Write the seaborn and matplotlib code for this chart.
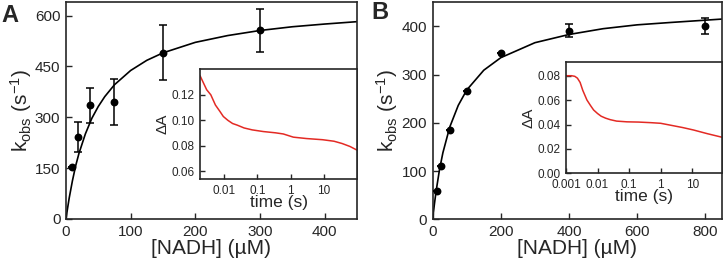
import numpy as np
import matplotlib
matplotlib.use("Agg")
import matplotlib.pyplot as plt
import seaborn as sns
from matplotlib.ticker import FixedLocator, NullLocator, FixedFormatter

# ---- panel A data ----
a_nadh = [9.4, 18.75, 37.5, 75, 150, 300]
a_kobs = [153, 243, 335, 345, 491, 556]
a_err = [0, 44, 51, 67, 81, 64]
a_fit_x = [0, 2, 5, 10, 15, 20, 30, 40, 50, 60, 75, 100, 125, 150, 200, 250, 300, 350, 400, 450]
a_fit_y = [0, 26, 62, 113, 157, 193, 251, 297, 332, 361, 396, 438, 468, 490, 521, 541, 556, 567, 575, 582]
a_t = [0.0019, 0.003, 0.004, 0.0055, 0.0075, 0.0095, 0.013, 0.018, 0.025, 0.04, 0.07,
       0.15, 0.35, 0.6, 1.2, 3, 9, 20, 35, 60, 100]
a_dA = [0.135, 0.124, 0.120, 0.112, 0.107, 0.103, 0.100, 0.0975, 0.0962, 0.094, 0.0925,
        0.0912, 0.0902, 0.0893, 0.0868, 0.0857, 0.0848, 0.0836, 0.0818, 0.0795, 0.0765]

# ---- panel B data ----
b_nadh = [12.5, 25, 50, 100, 200, 400, 800]
b_kobs = [59, 111, 185, 266, 344, 391, 400]
b_err = [0, 0, 0, 0, 0, 14, 17]
b_fit_x = [0, 2, 5, 10, 20, 30, 50, 75, 100, 150, 200, 300, 400, 500, 600, 700, 850]
b_fit_y = [0, 13, 31, 58, 103, 138, 191, 236, 268, 309, 335, 366, 383, 395, 403, 408, 415]
b_t = [0.001, 0.0015, 0.0019, 0.0023, 0.0028, 0.0034, 0.0046, 0.006, 0.0075, 0.01, 0.013,
       0.018, 0.025, 0.04, 0.085, 0.2, 0.5, 1.0, 2, 5, 11, 30, 90]
b_dA = [0.0800, 0.0800, 0.0795, 0.0780, 0.0745, 0.0680, 0.0601, 0.0555, 0.0519, 0.0490, 0.0468,
        0.0452, 0.0440, 0.0428, 0.0422, 0.0420, 0.0415, 0.0410, 0.0395, 0.0375, 0.0355, 0.0325, 0.0295]

sns.set_style("ticks")
plt.rcParams["font.family"] = ["Liberation Sans", "DejaVu Sans"]
plt.rcParams["mathtext.fontset"] = "custom"
plt.rcParams["mathtext.rm"] = "Liberation Sans"
plt.rcParams["mathtext.it"] = "Liberation Sans"

RED = "#e32a24"

fig = plt.figure(figsize=(7.25, 2.71), dpi=100)


def main_panel(rect, fx, fy, px, py, err, xlim, ylim, xticks, yticks):
    ax = fig.add_axes(rect)
    sns.lineplot(x=fx, y=fy, ax=ax, color="black", linewidth=1.2, sort=False)
    ax.errorbar(px, py, yerr=err, fmt="none", ecolor="black", elinewidth=1.1,
                capsize=3, capthick=1.1, zorder=3)
    sns.scatterplot(x=px, y=py, ax=ax, color="black", s=32, edgecolor="black",
                    linewidth=0, zorder=4)
    ax.set_xlim(xlim)
    ax.set_ylim(ylim)
    ax.set_xticks(xticks)
    ax.set_yticks(yticks)
    ax.tick_params(direction="in", length=4, width=1, labelsize=11, pad=4)
    for s in ax.spines.values():
        s.set_visible(True)
        s.set_linewidth(1.2)
    ax.set_xlabel("[NADH] (\u00b5M)", fontsize=15, labelpad=0)
    ax.set_ylabel(r"k$_{\mathregular{obs}}$ (s$^{\mathregular{-1}}$)", fontsize=15, labelpad=1)
    return ax


def inset_panel(rect, t, dA, xlim, ylim, xticks, xlabels, yticks):
    ax = fig.add_axes(rect)
    ax.set_facecolor("white")
    sns.lineplot(x=t, y=dA, ax=ax, color=RED, linewidth=1.1, sort=False)
    ax.set_xscale("log")
    ax.set_xlim(xlim)
    ax.set_ylim(ylim)
    ax.xaxis.set_major_locator(FixedLocator(xticks))
    ax.xaxis.set_major_formatter(FixedFormatter(xlabels))
    ax.xaxis.set_minor_locator(NullLocator())
    ax.set_yticks(yticks)
    ax.set_yticklabels(["%.2f" % v for v in yticks])
    ax.tick_params(direction="in", length=3.5, width=1, labelsize=8.5, pad=4)
    for s in ax.spines.values():
        s.set_visible(True)
        s.set_linewidth(1.2)
    ax.set_xlabel("time (s)", fontsize=12.5, labelpad=-1)
    ax.set_ylabel("\u0394A", fontsize=11, labelpad=1)
    return ax


main_panel([0.0910, 0.1919, 0.4014, 0.8007], a_fit_x, a_fit_y, a_nadh, a_kobs, a_err,
           (0, 450), (0, 640), [0, 100, 200, 300, 400], [0, 150, 300, 450, 600])
main_panel([0.5968, 0.1908, 0.3995, 0.8030], b_fit_x, b_fit_y, b_nadh, b_kobs, b_err,
           (0, 850), (0, 451), [0, 200, 400, 600, 800], [0, 100, 200, 300, 400])

inset_panel([0.2759, 0.3395, 0.2166, 0.4048], a_t, a_dA, (0.0019, 98), (0.054, 0.140),
            [0.01, 0.1, 1, 10], ["0.01", "0.1", "1", "10"],
            [0.06, 0.08, 0.10, 0.12])
inset_panel([0.7807, 0.3605, 0.2156, 0.4096], b_t, b_dA, (0.001, 90), (0, 0.091),
            [0.001, 0.01, 0.1, 1, 10], ["0.001", "0.01", "0.1", "1", "10"],
            [0.0, 0.02, 0.04, 0.06, 0.08])

fig.text(0.002, 0.985, "A", fontsize=17, fontweight="bold", va="top", ha="left")
fig.text(0.512, 0.995, "B", fontsize=17, fontweight="bold", va="top", ha="left")

fig.savefig("out.png", dpi=100)
